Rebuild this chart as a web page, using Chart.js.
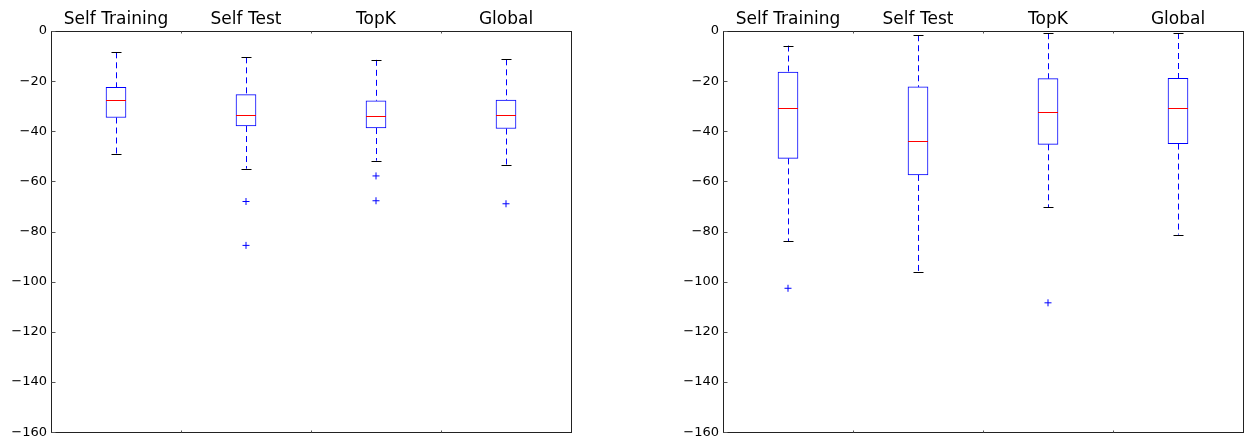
<!DOCTYPE html>
<html>
<head>
<meta charset="utf-8">
<script src="https://cdn.jsdelivr.net/npm/chart.js@4.4.1/dist/chart.umd.min.js"></script>
<style>
    html, body { margin: 0; padding: 0; background: #fff; }
    body { width: 1250px; height: 444px; position: relative; overflow: hidden; }
    canvas { position: absolute; top: 0; }
    #leftChart { left: 0; width: 600px; height: 444px; }
    #rightChart { left: 672px; width: 578px; height: 444px; }
</style>
</head>
<body>
<canvas id="leftChart" width="600" height="444"></canvas>
<canvas id="rightChart" width="578" height="444"></canvas>
<script>
// --- 1. Data ---
const categories = ['Self Training', 'Self Test', 'TopK', 'Global'];
const yMin = -160;
const yMax = 0;
const yStep = 20;

// left panel
const leftLowWhisker = [-48.9, -54.9, -51.7, -53.5];
const leftQ1 = [-34.5, -37.9, -38.7, -38.9];
const leftMedian = [-27.6, -33.5, -33.7, -33.6];
const leftQ3 = [-22.5, -25.4, -27.8, -27.5];
const leftHighWhisker = [-8.5, -10.5, -11.5, -11.3];
const leftOutliers = [[], [-68, -85.5], [-57.8, -67.7], [-68.9]];

// right panel
const rightLowWhisker = [-83.9, -96.1, -70.3, -81.2];
const rightQ1 = [-50.8, -57.4, -45.2, -44.9];
const rightMedian = [-30.8, -43.9, -32.5, -30.9];
const rightQ3 = [-16.4, -22.3, -19.0, -18.9];
const rightHighWhisker = [-5.8, -1.7, -0.9, -0.8];
const rightOutliers = [[-102.6], [], [-108.4], []];

Chart.defaults.font.family = "'DejaVu Sans', sans-serif";
Chart.defaults.color = '#000';

// --- 2. Whiskers, caps, medians and frame (positions from the chart scales) ---
function boxPartsPlugin(low, med, high) {
    return {
        id: 'boxParts',
        beforeDatasetsDraw(chart) {
            const { ctx, scales: { x, y } } = chart;
            const boxes = chart.data.datasets[0].data;
            ctx.save();
            ctx.lineWidth = 1;
            categories.forEach((c, i) => {
                const cx = Math.round(x.getPixelForValue(i)) + 0.5;
                // dashed whiskers
                ctx.strokeStyle = '#0000ff';
                ctx.setLineDash([6, 4]);
                ctx.beginPath();
                ctx.moveTo(cx, y.getPixelForValue(high[i]));
                ctx.lineTo(cx, y.getPixelForValue(boxes[i][1]));
                ctx.moveTo(cx, y.getPixelForValue(boxes[i][0]));
                ctx.lineTo(cx, y.getPixelForValue(low[i]));
                ctx.stroke();
                // caps
                ctx.setLineDash([]);
                ctx.strokeStyle = '#000';
                ctx.beginPath();
                [high[i], low[i]].forEach(v => {
                    const py = Math.round(y.getPixelForValue(v)) + 0.5;
                    ctx.moveTo(cx - 5, py);
                    ctx.lineTo(cx + 5, py);
                });
                ctx.stroke();
            });
            ctx.restore();
        },
        afterDatasetsDraw(chart) {
            const { ctx, chartArea, scales: { x, y } } = chart;
            ctx.save();
            ctx.lineWidth = 1;
            // medians
            ctx.strokeStyle = '#ff0000';
            ctx.beginPath();
            categories.forEach((c, i) => {
                const cx = x.getPixelForValue(i);
                const py = Math.round(y.getPixelForValue(med[i])) + 0.5;
                ctx.moveTo(cx - 10, py);
                ctx.lineTo(cx + 10, py);
            });
            ctx.stroke();

            // frame
            const l = Math.round(chartArea.left) + 0.5;
            const t = Math.round(chartArea.top) + 0.5;
            const r = Math.round(chartArea.right) + 0.5;
            const b = Math.round(chartArea.bottom) + 0.5;
            ctx.strokeStyle = '#222';
            ctx.strokeRect(l, t, r - l, b - t);

            // inward y ticks
            ctx.beginPath();
            y.ticks.forEach(tk => {
                const py = Math.round(y.getPixelForValue(tk.value)) + 0.5;
                ctx.moveTo(l, py);
                ctx.lineTo(l + 4, py);
            });
            // small x ticks between categories
            for (let i = 0; i < categories.length - 1; i++) {
                const px = Math.round((x.getPixelForValue(i) + x.getPixelForValue(i + 1)) / 2) + 0.5;
                ctx.moveTo(px, t);
                ctx.lineTo(px, t + 2);
                ctx.moveTo(px, b);
                ctx.lineTo(px, b - 2);
            }
            ctx.strokeStyle = '#555';
            ctx.stroke();
            ctx.restore();
        }
    };
}

// --- 3. Build one panel ---
function makePanel(canvasId, low, q1, med, q3, high, outliers, rightPad) {
    const outlierPoints = [];
    outliers.forEach((list, i) => {
        list.forEach(v => outlierPoints.push({ x: categories[i], y: v }));
    });

    return new Chart(document.getElementById(canvasId), {
        type: 'bar',
        data: {
            labels: categories,
            datasets: [{
                data: q1.map((v, i) => [v, q3[i]]),
                backgroundColor: '#ffffff',
                borderColor: '#0000ff',
                borderWidth: 1,
                borderSkipped: false,
                barThickness: 20
            }, {
                type: 'line',
                data: outlierPoints,
                showLine: false,
                pointStyle: 'cross',
                pointRadius: 3.5,
                pointBorderWidth: 1,
                pointBorderColor: '#0000ff',
                pointBackgroundColor: '#0000ff'
            }]
        },
        options: {
            responsive: false,
            animation: false,
            devicePixelRatio: 1,
            layout: { padding: { left: 0, top: 0, right: rightPad, bottom: 10 } },
            plugins: {
                legend: { display: false },
                tooltip: { enabled: false },
                title: { display: false }
            },
            scales: {
                x: {
                    type: 'category',
                    position: 'top',
                    offset: true,
                    grid: { display: false, drawTicks: false },
                    border: { display: false },
                    ticks: { font: { size: 17 }, padding: 1, maxRotation: 0, autoSkip: false },
                    afterFit: s => { s.height = 31; }
                },
                y: {
                    min: yMin,
                    max: yMax,
                    grid: { display: false, drawTicks: false },
                    border: { display: false },
                    ticks: {
                        stepSize: yStep,
                        padding: 4,
                        font: { size: 13 },
                        callback: v => v < 0 ? '\u2212' + Math.abs(v) : String(v)
                    },
                    afterFit: s => { s.width = 51; }
                }
            }
        },
        plugins: [boxPartsPlugin(low, med, high)]
    });
}

makePanel('leftChart', leftLowWhisker, leftQ1, leftMedian, leftQ3, leftHighWhisker, leftOutliers, 29);
makePanel('rightChart', rightLowWhisker, rightQ1, rightMedian, rightQ3, rightHighWhisker, rightOutliers, 7);
</script>
</body>
</html>
